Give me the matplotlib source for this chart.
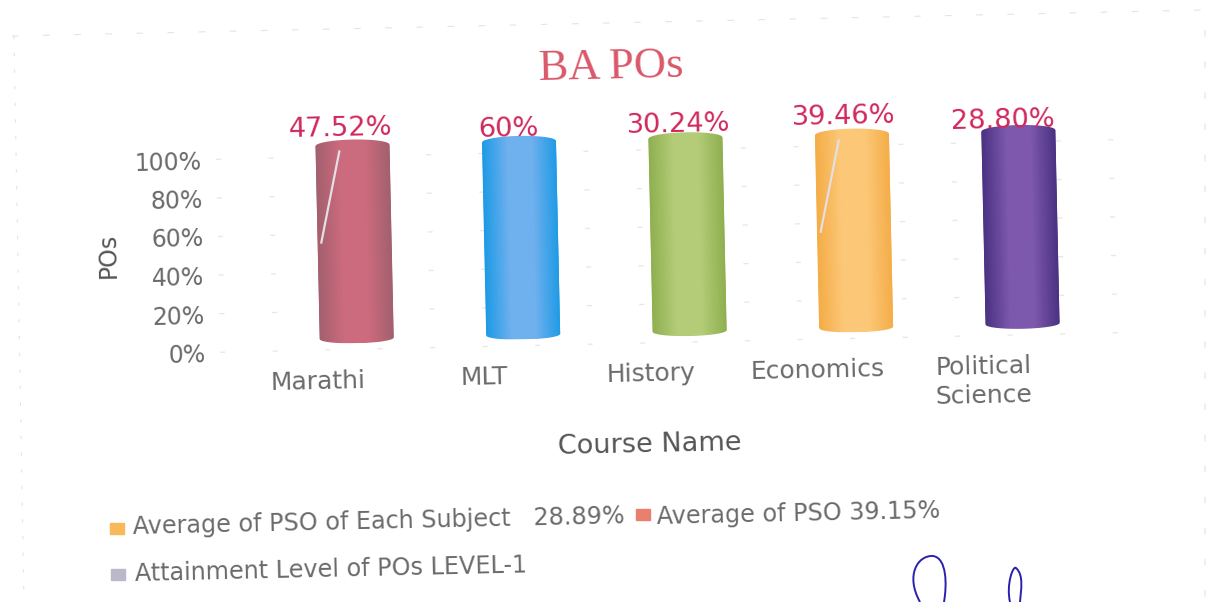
import numpy as np
import matplotlib
matplotlib.use("Agg")
import matplotlib.pyplot as plt
from matplotlib.colors import LinearSegmentedColormap
from matplotlib.lines import Line2D
from matplotlib.patches import PathPatch, Rectangle
from matplotlib.path import Path
from matplotlib.transforms import Affine2D

# data
courses = ["Marathi", "MLT", "History", "Economics", "Political\nScience"]
labels = ["47.52%", "60%", "30.24%", "39.46%", "28.80%"]
stacked = [100, 100, 100, 100, 100]
yticks = [0, 20, 40, 60, 80, 100]

# colours: edge of cylinder, middle of cylinder
colors = [("#a3606e", "#cc6b7e"),
          ("#1f9be6", "#6fb0ee"),
          ("#8fb050", "#b4cc78"),
          ("#f5ad48", "#fcc878"),
          ("#4b3282", "#7d58ac")]
label_dx = [-0.05, -0.04, -0.02, -0.03, -0.07]
label_dy = [2, 0, 0.5, 2.5, -1]

W, H = 1217, 602
TILT = 1.25      # scanned page is a bit crooked
x0, y0 = 187, H - 353
step = 166.5
first = 317
bar_w = 74 / step
shift_x = 40 / step    # fake 3d offset of the cylinders
shift_y = 5.7
cap_low = 2.6
cap_top = 3.0
ytop = 120

fig = plt.figure(figsize=(W / 100, H / 100), dpi=100, facecolor="white")
ax = fig.add_axes([x0 / W, y0 / H, 1000 / W, 193 * ytop / 100 / H])
rot = Affine2D().rotate_deg_around(x0, y0, TILT)
tr = ax.transData + rot
xlim = ((x0 - first) / step, (x0 + 1000 - first) / step)

grey = "#6a6a6a"
red = "#d0285c"

# faint scanned gridlines
ax.hlines(yticks, xlim[0] + 0.2, 4.9, colors="#e6e6e6", lw=0.9,
          linestyles=(0, (4, 38)), transform=tr, clip_on=False)

t = np.linspace(0, np.pi, 40)
for i, val in enumerate(stacked):
    cx = i + shift_x
    low, mid = colors[i]
    bar = ax.bar(cx, val, bar_w, bottom=shift_y, color=low, zorder=2)[0]
    bar.set_transform(tr)
    bar.set_clip_on(False)

    # cylinder outline, used to clip the shading
    px = np.r_[cx + bar_w / 2 * np.cos(t), cx - bar_w / 2 * np.cos(t)]
    py = np.r_[shift_y - cap_low * np.sin(t), shift_y + val + cap_top * np.sin(t)]
    outline = Path(np.c_[px, py])
    cmap = LinearSegmentedColormap.from_list("c", [low, mid, mid, low])
    im = ax.imshow(np.linspace(0, 1, 64)[None, :], cmap=cmap, aspect="auto",
                   extent=(cx - bar_w / 2, cx + bar_w / 2, shift_y - cap_low, shift_y + val + cap_top),
                   transform=tr, zorder=3)
    im.set_clip_box(None)
    im.set_clip_path(outline, transform=tr)

    ax.text(cx + label_dx[i] - 0.02, shift_y + val + 6.5 + label_dy[i], labels[i],
            color=red, fontsize=19.6, ha="center", va="center",
            rotation=TILT, rotation_mode="anchor", transform=tr, zorder=5, clip_on=False)

    # pale crease on two of the cylinders
    if i in (0, 3):
        ax.plot([cx - 0.08, cx - 0.20], [shift_y + val - 3, shift_y + val - 50],
                color="#e4dfe4", lw=1.6, transform=tr, zorder=4, clip_on=False)

ax.set_xlim(xlim)
ax.set_ylim(0, ytop)
ax.set_xticks(range(len(courses)))
ax.set_xticklabels(courses, fontsize=18, color=grey, linespacing=1.25)
ax.set_yticks(yticks)
ax.set_yticklabels([f"{v}%" for v in yticks], fontsize=17, color=grey)
ax.tick_params(length=0, pad=14)
ax.tick_params(axis="y", pad=-13.5)
for s in ax.spines.values():
    s.set_visible(False)
ax.patch.set_visible(False)
for lab in ax.get_xticklabels() + ax.get_yticklabels():
    lab.set_transform(lab.get_transform() + rot)
    lab.set_rotation(TILT)
    lab.set_rotation_mode("anchor")


def page_text(x, y, s, **kw):
    kw.setdefault("color", grey)
    kw.setdefault("va", "center")
    kw.setdefault("rotation", TILT)
    kw.setdefault("rotation_mode", "anchor")
    fig.text(x / W, 1 - y / H, s, **kw)


page_text(611, 67, "BA POs", family="Liberation Serif", fontsize=32, color="#d9586a", ha="center")
page_text(650, 445, "Course Name", fontsize=19.5, ha="center", color="#555555")
page_text(108, 255, "POs", fontsize=17, ha="center", rotation=90 + TILT, color="#555555")

# legend, written out by hand because it runs crooked with the page
legend_items = [(110, 531, "#f9b95a", 133, 527, "Average of PSO of Each Subject   28.89%"),
                (636, 517, "#e9806e", 657, 517, "Average of PSO 39.15%"),
                (111, 577, "#b9b9c9", 135, 574, "Attainment Level of POs LEVEL-1")]
for bx, by, c, tx, ty, s in legend_items:
    fig.add_artist(Rectangle((bx / W, 1 - (by + 3) / H), 14 / W, 11 / H, color=c,
                             transform=fig.transFigure))
    page_text(tx, ty, s, fontsize=17.2, ha="left")

# page edge of the scan
edge_x = [12, 1205, 1205]
edge_y = [36, 10, 602]
fig.add_artist(Line2D(np.array(edge_x) / W, 1 - np.array(edge_y) / H, color="#e4e4e4",
                      lw=0.8, ls=(0, (6, 22)), transform=fig.transFigure))
fig.add_artist(Line2D([14 / W, 24 / W], [1 - 36 / H, 0], color="#e4e4e4", lw=0.8,
                      ls=(0, (3, 12)), transform=fig.transFigure))

# signature
sign = Path([(920, 602), (905, 575), (918, 555), (933, 556),
             (947, 558), (947, 585), (944, 602),
             (1010, 602), (1006, 585), (1013, 565), (1016, 568),
             (1024, 575), (1021, 590), (1020, 602)],
            [Path.MOVETO, Path.CURVE4, Path.CURVE4, Path.CURVE4, Path.CURVE4, Path.CURVE4, Path.CURVE4,
             Path.MOVETO, Path.CURVE4, Path.CURVE4, Path.CURVE4, Path.CURVE4, Path.CURVE4, Path.CURVE4])
sign = sign.transformed(Affine2D().scale(1 / W, -1 / H).translate(0, 1))
fig.add_artist(PathPatch(sign, fill=False, edgecolor="#2a20b0", lw=1.4, transform=fig.transFigure))

fig.savefig("out.png", dpi=100, facecolor="white")
